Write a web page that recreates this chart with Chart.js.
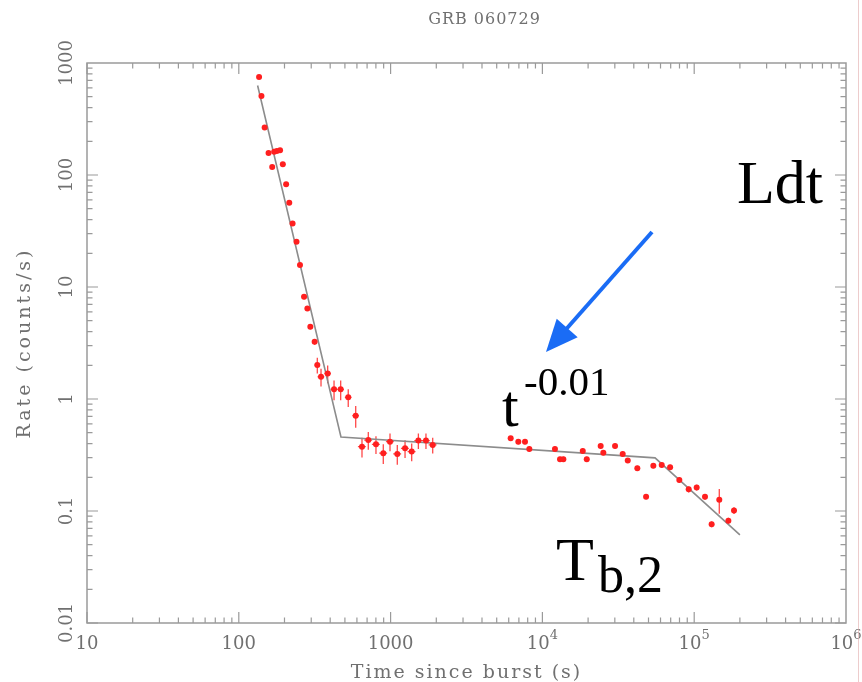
<!DOCTYPE html>
<html>
<head>
<meta charset="utf-8">
<title>GRB 060729</title>
<script src="https://cdn.jsdelivr.net/npm/chart.js@4.4.0/dist/chart.umd.min.js"></script>
<style>
  html, body { margin: 0; padding: 0; background: #fff; }
  canvas { display: block; }
</style>
</head>
<body>
<canvas id="grb" width="862" height="682"></canvas>
<script>
// GRB 060729 X-ray light curve (rate vs time since burst), log-log

const chartTitle = 'GRB 060729';
const xTitle = 'Time since burst (s)';
const yTitle = 'Rate (counts/s)';

const timeSec = [136, 141, 148, 157, 166, 171, 178, 187, 195, 205, 215, 226, 240, 253, 269, 283, 296, 316,
  329, 348, 385, 424, 469, 526, 589, 648, 713, 801, 895, 991, 1107, 1245, 1377, 1524, 1710, 1894,
  6180, 6940, 7680, 8200, 12100, 13060, 13740, 18450, 19600, 24200, 25200, 30100, 33800, 36500, 42200,
  48200, 53800, 61100, 69400, 79800, 92000, 103800, 117800, 130300, 146300, 167900, 182900];
const rate = [750, 508, 265, 157, 118, 161, 164, 166, 125, 82.8, 56.4, 36.9, 25.3, 15.7, 8.18, 6.44, 4.42, 3.24,
  2.01, 1.58, 1.69, 1.22, 1.22, 1.035, 0.71, 0.375, 0.43, 0.394, 0.328, 0.416, 0.323, 0.363, 0.339, 0.425, 0.425, 0.389,
  0.446, 0.416, 0.416, 0.358, 0.358, 0.29, 0.29, 0.344, 0.29, 0.381, 0.332, 0.381, 0.323, 0.282, 0.241,
  0.134, 0.254, 0.258, 0.246, 0.189, 0.156, 0.162, 0.134, 0.0762, 0.126, 0.082, 0.101];
// relative half error bars (fraction of value)
const rateErr = [0.03, 0.03, 0.03, 0.03, 0.03, 0.03, 0.03, 0.03, 0.03, 0.03, 0.04, 0.04, 0.04, 0.04, 0.05, 0.05, 0.05, 0.06,
  0.16, 0.18, 0.18, 0.2, 0.2, 0.18, 0.22, 0.2, 0.18, 0.18, 0.2, 0.18, 0.2, 0.18, 0.18, 0.16, 0.16, 0.16,
  0.05, 0.05, 0.05, 0.05, 0.05, 0.05, 0.05, 0.05, 0.05, 0.05, 0.05, 0.05, 0.05, 0.05, 0.05,
  0.05, 0.05, 0.05, 0.05, 0.06, 0.06, 0.06, 0.06, 0.06, 0.25, 0.06, 0.07];
const timeErr = [0.01, 0.01, 0.01, 0.01, 0.01, 0.01, 0.01, 0.01, 0.01, 0.01, 0.01, 0.01, 0.01, 0.01, 0.01, 0.01, 0.01, 0.01,
  0.04, 0.05, 0.05, 0.05, 0.05, 0.05, 0.05, 0.06, 0.06, 0.06, 0.06, 0.06, 0.06, 0.06, 0.06, 0.06, 0.06, 0.06,
  0.02, 0.02, 0.02, 0.02, 0.02, 0.02, 0.02, 0.02, 0.02, 0.02, 0.02, 0.02, 0.02, 0.02, 0.02,
  0.02, 0.02, 0.02, 0.02, 0.02, 0.02, 0.02, 0.02, 0.02, 0.02, 0.02, 0.02];

// broken power-law fit (break points)
const modelTime = [133, 471, 55200, 200000];
const modelRate = [630, 0.458, 0.298, 0.0612];

// axis ticks
const xTickValues = [10, 100, 1000, 1e4, 1e5, 1e6];
const xTickLabels = ['10', '100', '1000', '10^4', '10^5', '10^6'];
const yTickValues = [0.01, 0.1, 1, 10, 100, 1000];
const yTickLabels = ['0.01', '0.1', '1', '10', '100', '1000'];

const AXIS_COLOR = '#9a9a9a';
const LABEL_COLOR = '#707070';
const LABEL_FONT = '18px "DejaVu Serif", serif';
const TITLE_FONT = '19px "DejaVu Serif", serif';
const NOTE_FONT = '"Liberation Serif", "Times New Roman", serif';

const points = timeSec.map((t, i) => ({x: t, y: rate[i]}));
const model = modelTime.map((t, i) => ({x: t, y: modelRate[i]}));

// error bars under the points
function drawErrorBars(chart){
  const {ctx, scales: {x, y}} = chart;
  ctx.save();
  ctx.strokeStyle = 'rgba(255,40,40,0.85)';
  ctx.lineWidth = 1.3;
  points.forEach((p, i) => {
    const px = x.getPixelForValue(p.x);
    const py = y.getPixelForValue(p.y);
    const yLo = y.getPixelForValue(p.y * (1 - rateErr[i]));
    const yHi = y.getPixelForValue(p.y * (1 + rateErr[i]));
    const xLo = x.getPixelForValue(p.x * (1 - timeErr[i]));
    const xHi = x.getPixelForValue(p.x * (1 + timeErr[i]));
    ctx.beginPath();
    ctx.moveTo(px, yLo); ctx.lineTo(px, yHi);
    ctx.moveTo(xLo, py); ctx.lineTo(xHi, py);
    ctx.stroke();
  });
  ctx.restore();
}

// frame with inward log ticks on all four sides
function drawFrame(chart){
  const {ctx, chartArea: a, scales: {x, y}} = chart;
  ctx.save();
  ctx.strokeStyle = AXIS_COLOR;
  ctx.lineWidth = 1.5;
  ctx.strokeRect(a.left, a.top, a.right - a.left, a.bottom - a.top);
  ctx.lineWidth = 1.2;
  ctx.beginPath();
  for(let d = 1; d < 6; d++){
    for(let k = 1; k <= 9; k++){
      const px = x.getPixelForValue(k * Math.pow(10, d));
      const len = k === 1 ? 11 : 5.5;
      ctx.moveTo(px, a.bottom); ctx.lineTo(px, a.bottom - len);
      ctx.moveTo(px, a.top); ctx.lineTo(px, a.top + len);
    }
  }
  for(let d = -2; d < 3; d++){
    for(let k = 1; k <= 9; k++){
      const py = y.getPixelForValue(k * Math.pow(10, d));
      const len = k === 1 ? 11 : 5.5;
      ctx.moveTo(a.left, py); ctx.lineTo(a.left + len, py);
      ctx.moveTo(a.right, py); ctx.lineTo(a.right - len, py);
    }
  }
  ctx.stroke();
  ctx.restore();
}

function drawLabels(chart){
  const {ctx, chartArea: a, scales: {x, y}} = chart;
  ctx.save();
  ctx.fillStyle = LABEL_COLOR;
  ctx.font = LABEL_FONT;
  ctx.textBaseline = 'middle';

  // x tick labels, "10^n" gets a raised exponent
  xTickValues.forEach((v, i) => {
    const px = x.getPixelForValue(v);
    const lab = xTickLabels[i];
    if(lab.includes('^')){
      const [base, exp] = lab.split('^');
      ctx.font = LABEL_FONT;
      const wb = ctx.measureText(base).width;
      ctx.font = '13px "DejaVu Serif", serif';
      const we = ctx.measureText(exp).width;
      const x0 = px - (wb + we) / 2;
      ctx.textAlign = 'left';
      ctx.font = LABEL_FONT;
      ctx.fillText(base, x0, a.bottom + 21);
      ctx.font = '13px "DejaVu Serif", serif';
      ctx.fillText(exp, x0 + wb, a.bottom + 13);
    } else {
      ctx.font = LABEL_FONT;
      ctx.textAlign = 'center';
      ctx.fillText(lab, px, a.bottom + 21);
    }
  });

  // y tick labels, rotated
  ctx.font = LABEL_FONT;
  ctx.textAlign = 'center';
  yTickValues.forEach((v, i) => {
    const py = y.getPixelForValue(v);
    ctx.save();
    ctx.translate(a.left - 20, py);
    ctx.rotate(-Math.PI / 2);
    ctx.fillText(yTickLabels[i], 0, 0);
    ctx.restore();
  });

  // axis titles, spaced out like the plotting font
  const cx = (a.left + a.right) / 2;
  const cy = (a.top + a.bottom) / 2;
  ctx.font = TITLE_FONT;
  ctx.letterSpacing = '2px';
  ctx.fillText(xTitle, cx, a.bottom + 50);
  ctx.save();
  ctx.translate(a.left - 62, cy);
  ctx.rotate(-Math.PI / 2);
  ctx.letterSpacing = '3px';
  ctx.fillText(yTitle, 0, 0);
  ctx.restore();

  ctx.letterSpacing = '1px';
  ctx.font = '16px "DejaVu Serif", serif';
  ctx.fillText(chartTitle, cx + 18, 20);
  ctx.restore();
}

// the hand-added notes: Ldt, t^-0.01, T_b,2 and the blue arrow
function drawNotes(chart){
  const {ctx} = chart;
  ctx.save();
  ctx.fillStyle = '#000';
  ctx.textAlign = 'left';
  ctx.textBaseline = 'alphabetic';

  ctx.font = '62px ' + NOTE_FONT;
  ctx.fillText('Ldt', 737, 203);

  ctx.font = '60px ' + NOTE_FONT;
  ctx.fillText('t', 502, 426);
  ctx.font = '41px ' + NOTE_FONT;
  ctx.fillText('-0.01', 524, 395);

  ctx.font = '62px ' + NOTE_FONT;
  ctx.fillText('T', 556, 580);
  ctx.font = '52px ' + NOTE_FONT;
  ctx.fillText('b,2', 598, 592);

  // arrow
  const x0 = 652, y0 = 232, tx = 546, ty = 352;
  const len = Math.hypot(tx - x0, ty - y0);
  const ux = (tx - x0) / len, uy = (ty - y0) / len;
  const head = 32, half = 14;
  const bx = tx - ux * head, by = ty - uy * head;
  ctx.strokeStyle = '#1a6cf5';
  ctx.fillStyle = '#1a6cf5';
  ctx.lineWidth = 4;
  ctx.beginPath();
  ctx.moveTo(x0, y0);
  ctx.lineTo(bx + ux * 2, by + uy * 2);
  ctx.stroke();
  ctx.beginPath();
  ctx.moveTo(tx, ty);
  ctx.lineTo(bx - uy * half, by + ux * half);
  ctx.lineTo(bx + uy * half, by - ux * half);
  ctx.closePath();
  ctx.fill();

  // faint edge line at the right of the image
  ctx.strokeStyle = 'rgba(225,170,170,0.6)';
  ctx.lineWidth = 1;
  ctx.beginPath();
  ctx.moveTo(858.5, 0);
  ctx.lineTo(858.5, 682);
  ctx.stroke();
  ctx.restore();
}

const decorations = {
  id: 'decorations',
  beforeDatasetsDraw(chart){ drawErrorBars(chart); },
  afterDraw(chart){
    drawFrame(chart);
    drawLabels(chart);
    drawNotes(chart);
  }
};

new Chart(document.getElementById('grb').getContext('2d'), {
  type: 'scatter',
  data: {
    datasets: [
      {
        label: 'data',
        data: points,
        order: 0,
        pointRadius: 3,
        pointBackgroundColor: '#ff1f1f',
        pointBorderWidth: 0,
        showLine: false
      },
      {
        label: 'fit',
        data: model,
        order: 1,
        showLine: true,
        borderColor: '#8c8c8c',
        borderWidth: 1.6,
        pointRadius: 0,
        tension: 0
      }
    ]
  },
  options: {
    responsive: false,
    animation: false,
    layout: {padding: {left: 87, right: 16, top: 63, bottom: 59}},
    scales: {
      x: {type: 'logarithmic', min: 10, max: 1e6, display: false},
      y: {type: 'logarithmic', min: 0.01, max: 1000, display: false}
    },
    plugins: {
      legend: {display: false},
      tooltip: {enabled: false},
      title: {display: false}
    }
  },
  plugins: [decorations]
});
</script>
</body>
</html>
